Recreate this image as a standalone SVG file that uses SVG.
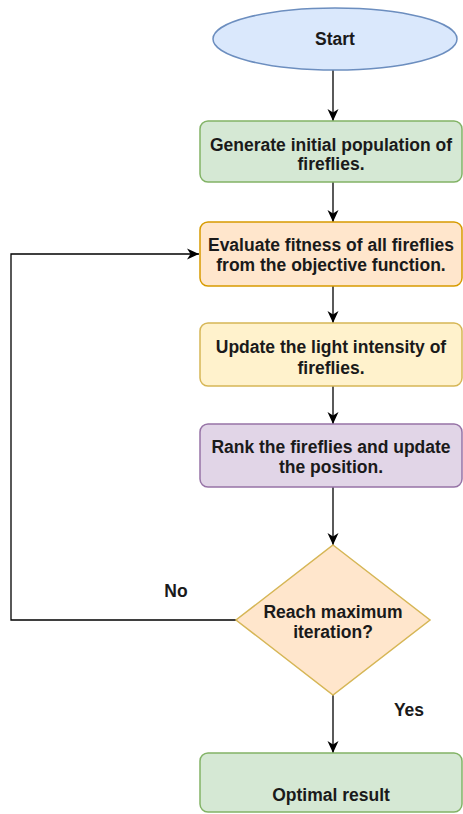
<svg xmlns="http://www.w3.org/2000/svg" width="463" height="814" viewBox="0 0 463 814">
<style>
text{font-family:"Liberation Sans",Arial,sans-serif;font-weight:bold;font-size:17.5px;fill:#1a1a1a;text-anchor:middle}
.c{fill:none;stroke:#000;stroke-width:1.3}
.box{stroke-width:1.5}
</style>
<defs>
<marker id="arr" markerUnits="userSpaceOnUse" markerWidth="12" markerHeight="12" viewBox="0 0 12 12" refX="12" refY="6" orient="auto">
<path d="M0,0.5 L12,6 L0,11.5 L3.5,6 Z" fill="#000"/>
</marker>
</defs>
<rect width="463" height="814" fill="#fff"/>
<g id="connectors">
<path class="c" d="M333,70 V121" marker-end="url(#arr)"/>
<path class="c" d="M333,182 V222" marker-end="url(#arr)"/>
<path class="c" d="M333,286 V323" marker-end="url(#arr)"/>
<path class="c" d="M333,386 V424" marker-end="url(#arr)"/>
<path class="c" d="M333,487 V545" marker-end="url(#arr)"/>
<path class="c" d="M236,620 H11 V254 H199" marker-end="url(#arr)"/>
<path class="c" d="M333,695 V753" marker-end="url(#arr)"/>
<text x="176" y="597">No</text>
<text x="409" y="716">Yes</text>
</g>
<g id="start">
<ellipse class="box" cx="335" cy="39" rx="122" ry="31" fill="#dae8fc" stroke="#6c8ebf"/>
<text x="335" y="45">Start</text>
</g>
<g id="generate">
<rect class="box" x="200" y="121" width="262" height="61" rx="8" fill="#d5e8d4" stroke="#82b366"/>
<text x="331" y="151">Generate initial population of</text>
<text x="331" y="170">fireflies.</text>
</g>
<g id="evaluate">
<rect class="box" x="200" y="222" width="262" height="64" rx="8" fill="#ffe6cc" stroke="#d79b00"/>
<text x="331" y="251">Evaluate fitness of all fireflies</text>
<text x="331" y="271">from the objective function.</text>
</g>
<g id="update">
<rect class="box" x="200" y="323" width="262" height="63" rx="8" fill="#fff2cc" stroke="#d6b656"/>
<text x="331" y="353">Update the light intensity of</text>
<text x="331" y="374">fireflies.</text>
</g>
<g id="rank">
<rect class="box" x="200" y="424" width="262" height="63" rx="8" fill="#e1d5e7" stroke="#9673a6"/>
<text x="331" y="453">Rank the fireflies and update</text>
<text x="331" y="473">the position.</text>
</g>
<g id="decision">
<polygon class="box" points="333,545 430,620 333,695 236,620" fill="#ffe6cc" stroke="#d6b656"/>
<text x="333" y="618">Reach maximum</text>
<text x="333" y="638">iteration?</text>
</g>
<g id="result">
<rect class="box" x="200" y="753" width="262" height="59" rx="8" fill="#d5e8d4" stroke="#82b366"/>
<text x="331" y="801">Optimal result</text>
</g>
</svg>
